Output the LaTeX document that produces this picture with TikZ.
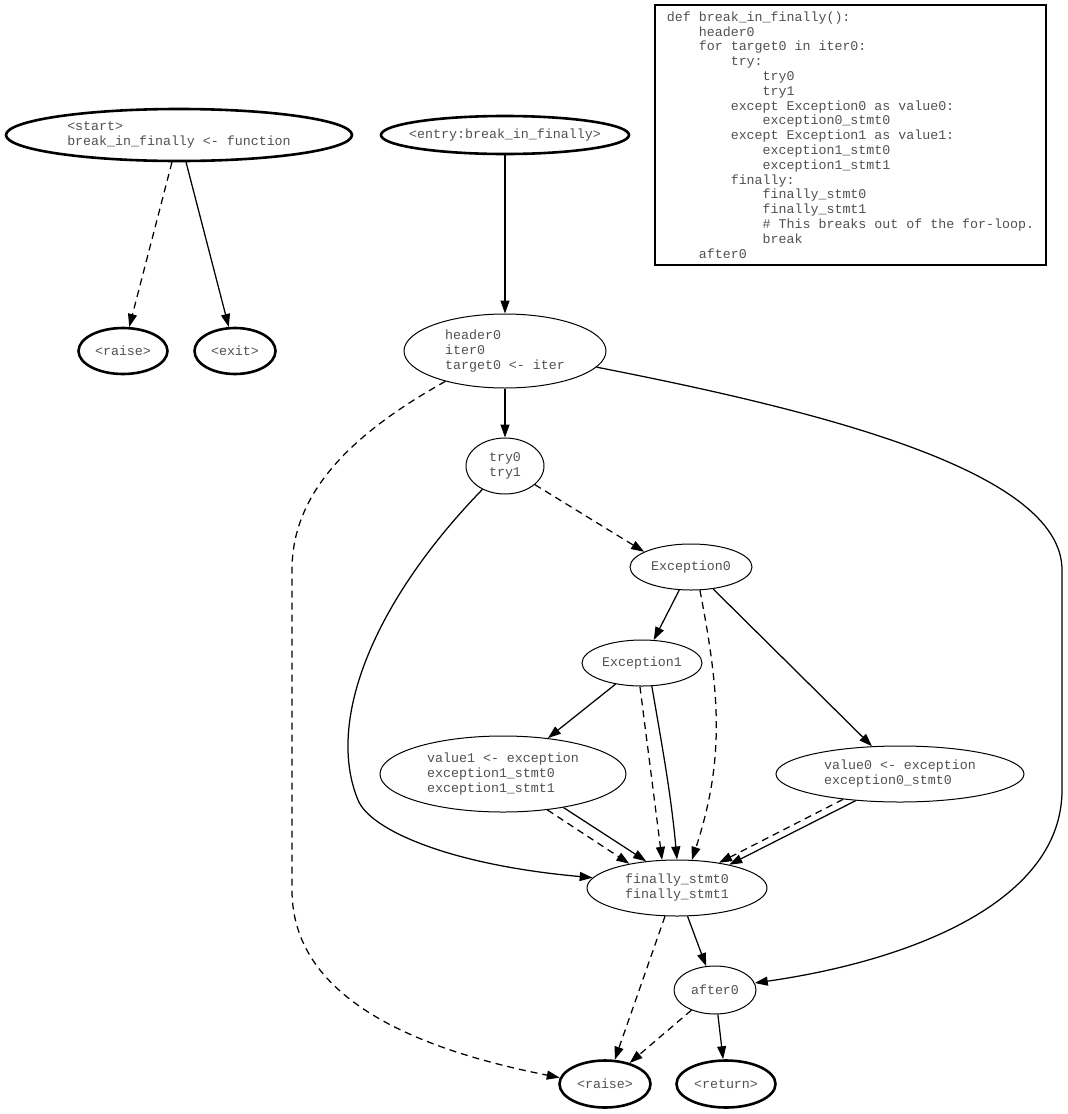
\documentclass[tikz,border=0pt]{standalone}
\usepackage{fontspec}
\setmonofont{Liberation Mono}
\usepackage{tikz}
\usetikzlibrary{arrows.meta,positioning,shapes.geometric}
\definecolor{txtcol}{RGB}{80,80,80}
\newcommand\tb{\hphantom{xxxx}}

\begin{document}
\begin{tikzpicture}[
  x=1pt, y=-1pt, on grid,
  >={Triangle[length=13pt,width=9pt]},
  blk/.style={draw, ellipse, inner sep=0pt, align=left, text=txtcol, line width=1pt,
    font=\ttfamily\fontsize{13.3}{15}\selectfont},
  term/.style={blk, line width=2.6pt},
  sz/.style 2 args={minimum width=#1pt, minimum height=#2pt},
  ok/.style={->, line width=1.25pt},
  exc/.style={ok, dash pattern=on 7pt off 5pt},
]
\useasboundingbox (0,0) rectangle (1068,1114);
\node[term, sz={248}{38}, inner xsep=-20pt] (entry) at (505,135) {<entry:break\_in\_finally>};
\node[term, sz={346}{52}, left=326pt of entry] (start) {<start>\\break\_in\_finally <- function};
\node[draw, line width=2.4pt, minimum width=391pt, minimum height=260pt, inner xsep=12pt,
  align=left, text=txtcol, font=\ttfamily\fontsize{13.3}{14.8}\selectfont,
  right=345.5pt of entry] (code)
  {def break\_in\_finally():\\
   \tb header0\\
   \tb for target0 in iter0:\\
   \tb\tb try:\\
   \tb\tb\tb try0\\
   \tb\tb\tb try1\\
   \tb\tb except Exception0 as value0:\\
   \tb\tb\tb exception0\_stmt0\\
   \tb\tb except Exception1 as value1:\\
   \tb\tb\tb exception1\_stmt0\\
   \tb\tb\tb exception1\_stmt1\\
   \tb\tb finally:\\
   \tb\tb\tb finally\_stmt0\\
   \tb\tb\tb finally\_stmt1\\
   \tb\tb\tb \# This breaks out of the for-loop.\\
   \tb\tb\tb break\\
   \tb after0};
\node[term, sz={89}{46}, below left=216pt and 56pt of start] (raise1) {<raise>};
\node[term, sz={81}{46}, right=112pt of raise1] (exit) {<exit>};
\node[blk, sz={202}{74}, below=216pt of entry] (header) {header0\\iter0\\target0 <- iter};
\node[blk, sz={78}{56}, below=115pt of header] (try) {try0\\try1};
\node[blk, sz={122}{46}, below right=101pt and 186pt of try] (exc0) {Exception0};
\node[blk, sz={120}{46}, below left=96pt and 49pt of exc0] (exc1) {Exception1};
\node[blk, sz={246}{76}, below left=111pt and 139pt of exc1] (val1)
  {value1 <- exception\\exception1\_stmt0\\exception1\_stmt1};
\node[blk, sz={248}{56}, below right=207pt and 209pt of exc0] (val0)
  {value0 <- exception\\exception0\_stmt0};
\node[blk, sz={180}{56}, below right=225pt and 35pt of exc1] (fin) {finally\_stmt0\\finally\_stmt1};
\node[blk, sz={82}{48}, below right=102pt and 38pt of fin] (after) {after0};
\node[term, sz={91}{47}, below left=94pt and 110pt of after] (raise2) {<raise>};
\node[term, sz={99}{47}, below right=94pt and 11pt of after] (ret) {<return>};
\draw[exc] (start) -- (raise1);
\draw[ok] (start) -- (exit);
\draw[ok] (entry) -- (header);
\draw[ok] (header) -- (try);
\draw[exc] (header.207) .. controls (340,440) and (292,500) .. (292,570) -- (292,890)
  .. controls (292,1000) and (420,1050) .. (raise2.172);
\draw[ok] (header.-10) .. controls (815,410) and (1062,470) .. (1062,570) -- (1062,790)
  .. controls (1062,900) and (915,960) .. (after.10);
\draw[exc] (try.-32) -- (exc0.162);
\draw[ok] (try.226) .. controls (375,600) and (325,720) .. (358,800)
  .. controls (370,830) and (450,865) .. (fin.173);
\draw[ok] (exc0) -- (exc1);
\draw[ok] (exc0) -- (val0);
\draw[exc] (exc0.-69) .. controls +(20,104) and +(33,-101) .. (fin.62);
\draw[ok] (exc1) -- (val1);
\draw[exc] (exc1.265) -- (fin.118);
\draw[ok] (exc1.-67) .. controls +(11,64) and +(-6,-65) .. (fin.90);
\draw[exc] (val1.-39) -- (fin.153);
\draw[ok] (val1.-29) -- (fin.139);
\draw[exc] (val0.204) -- (fin.31);
\draw[ok] (val0.211) -- (fin.24);
\draw[ok] (fin) -- (after);
\draw[exc] (fin.247) -- (raise2.68);
\draw[exc] (after) -- (raise2);
\draw[ok] (after) -- (ret);
\end{tikzpicture}
\end{document}
